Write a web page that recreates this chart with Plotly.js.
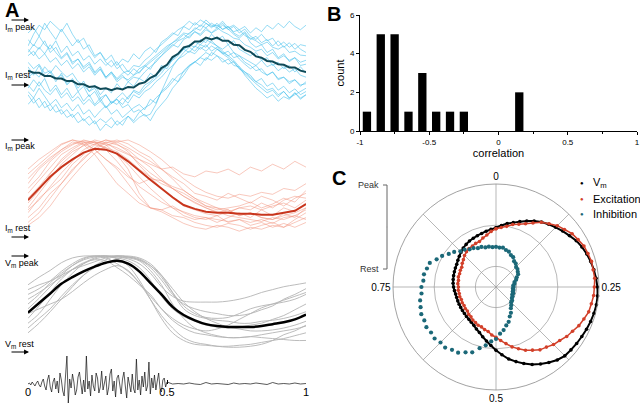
<!DOCTYPE html>
<html><head><meta charset="utf-8">
<script src="https://cdn.plot.ly/plotly-3.0.1.min.js"></script>
<style>html,body{margin:0;padding:0;background:#fff}#chart{width:640px;height:404px}</style>
</head><body><div id="chart"></div>
<script>
// ---------- Panel A data (phase 0..1, normalized rest=0, peak=1) ----------
const phase = [0,0.04,0.08,0.12,0.16,0.2,0.24,0.28,0.32,0.36,0.4,0.44,0.48,0.52,0.56,0.6,0.64,0.68,0.72,0.76,0.8,0.84,0.88,0.92,0.96,1];
const phaseFine = [0,0.02,0.04,0.06,0.08,0.1,0.12,0.14,0.16,0.18,0.2,0.22,0.24,0.26,0.28,0.3,0.32,0.34,0.36,0.38,0.4,0.42,0.44,0.46,0.48,0.5,0.52,0.54,0.56,0.58,0.6,0.62,0.64,0.66,0.68,0.7,0.72,0.74,0.76,0.78,0.8,0.82,0.84,0.86,0.88,0.9,0.92,0.94,0.96,0.98,1];

// Inhibition (cyan), sampled on phaseFine
const inhMean = [0.22,0.19,0.19,0.14,0.14,0.1,0.1,0.06,0.06,0.01,0.01,-0.03,-0.02,-0.06,-0.05,-0.08,-0.05,-0.07,-0.03,-0.04,0.02,0.04,0.11,0.15,0.26,0.31,0.43,0.48,0.58,0.6,0.67,0.67,0.73,0.7,0.73,0.68,0.68,0.62,0.61,0.54,0.51,0.44,0.42,0.37,0.36,0.32,0.31,0.27,0.27,0.22,0.2];
const inhCells = [
 [0.8,0.88,0.75,0.95,0.82,0.7,0.86,0.72,0.6,0.7,0.55,0.62,0.45,0.5,0.38,0.46,0.3,0.4,0.35,0.48,0.4,0.52,0.58,0.5,0.66,0.72,0.8,0.76,0.9,0.85,0.96,0.9,1.0,0.92,0.88,0.95,0.85,0.9,0.8,0.86,0.75,0.7,0.78,0.68,0.72,0.6,0.66,0.58,0.64,0.55,0.5],
 [-0.1,-0.2,-0.05,-0.18,-0.3,-0.22,-0.35,-0.28,-0.4,-0.3,-0.45,-0.38,-0.5,-0.4,-0.32,-0.45,-0.38,-0.5,-0.42,-0.35,-0.3,-0.38,-0.22,-0.28,-0.1,-0.02,0.1,0.05,0.22,0.3,0.36,0.3,0.42,0.38,0.45,0.35,0.4,0.3,0.28,0.2,0.15,0.05,0.1,-0.02,0.03,-0.08,-0.02,-0.12,-0.06,-0.15,-0.1],
 [0.45,0.52,0.4,0.48,0.35,0.42,0.3,0.38,0.25,0.33,0.2,0.28,0.15,0.24,0.12,0.2,0.1,0.18,0.22,0.15,0.25,0.3,0.38,0.45,0.52,0.6,0.65,0.72,0.8,0.78,0.88,0.84,0.95,0.9,0.92,0.86,0.9,0.82,0.85,0.76,0.72,0.68,0.62,0.66,0.58,0.55,0.6,0.5,0.52,0.46,0.45],
 [-0.15,-0.28,-0.2,-0.35,-0.3,-0.42,-0.38,-0.5,-0.45,-0.58,-0.52,-0.62,-0.55,-0.7,-0.6,-0.66,-0.55,-0.62,-0.48,-0.55,-0.42,-0.35,-0.3,-0.2,-0.12,-0.05,0.05,0.15,0.2,0.3,0.35,0.42,0.38,0.5,0.45,0.4,0.32,0.36,0.25,0.2,0.12,0.05,0.0,-0.08,-0.05,-0.15,-0.1,-0.2,-0.12,-0.22,-0.15],
 [0.6,0.78,0.92,0.85,0.98,0.9,0.82,0.95,0.78,0.65,0.72,0.55,0.42,0.5,0.35,0.28,0.36,0.22,0.15,0.25,0.18,0.3,0.24,0.38,0.45,0.55,0.62,0.58,0.7,0.75,0.82,0.78,0.88,0.8,0.85,0.92,0.86,0.78,0.72,0.8,0.65,0.58,0.62,0.5,0.55,0.42,0.48,0.36,0.42,0.3,0.32],
 [0.28,0.15,0.3,0.12,0.2,0.05,0.18,0.02,0.1,-0.05,0.06,-0.1,0.0,-0.15,-0.05,-0.12,0.02,-0.08,0.05,-0.02,0.1,0.05,0.18,0.12,0.3,0.25,0.4,0.5,0.55,0.62,0.58,0.7,0.65,0.78,0.7,0.75,0.62,0.68,0.55,0.5,0.45,0.5,0.38,0.42,0.3,0.35,0.25,0.3,0.2,0.28,0.18],
 [0.35,0.25,0.32,0.18,0.22,0.1,0.15,0.0,0.08,-0.1,-0.02,-0.18,-0.1,-0.25,-0.15,-0.28,-0.2,-0.12,-0.22,-0.08,-0.12,0.0,0.05,0.15,0.22,0.32,0.4,0.48,0.55,0.6,0.66,0.62,0.7,0.65,0.6,0.52,0.45,0.38,0.28,0.15,0.05,-0.05,-0.12,-0.2,-0.15,-0.25,-0.18,-0.22,-0.12,-0.2,-0.15],
 [0.5,0.62,0.55,0.68,0.5,0.58,0.42,0.5,0.35,0.4,0.28,0.35,0.2,0.28,0.12,0.2,0.08,0.15,0.05,0.12,0.1,0.2,0.28,0.35,0.45,0.52,0.6,0.68,0.72,0.8,0.85,0.92,0.88,0.95,0.9,0.98,0.88,0.92,0.85,0.9,0.8,0.88,0.82,0.92,0.86,0.95,0.88,0.98,0.9,0.85,0.92],
 [-0.3,-0.2,-0.35,-0.25,-0.4,-0.3,-0.45,-0.38,-0.5,-0.42,-0.55,-0.48,-0.6,-0.52,-0.58,-0.5,-0.62,-0.55,-0.48,-0.58,-0.5,-0.45,-0.55,-0.4,-0.3,-0.2,-0.05,0.05,0.15,0.28,0.35,0.42,0.5,0.45,0.55,0.48,0.52,0.42,0.45,0.35,0.3,0.22,0.25,0.15,0.2,0.1,0.12,0.05,0.08,0.0,0.02],
 [0.7,0.6,0.75,0.62,0.55,0.68,0.5,0.6,0.45,0.52,0.38,0.45,0.32,0.4,0.3,0.38,0.25,0.32,0.2,0.3,0.28,0.38,0.45,0.55,0.62,0.7,0.78,0.85,0.9,0.98,0.92,1.0,0.95,0.88,0.95,0.85,0.9,0.8,0.75,0.82,0.7,0.75,0.65,0.7,0.6,0.68,0.58,0.65,0.55,0.62,0.6],
 [0.1,0.2,0.12,0.28,0.18,0.3,0.2,0.12,0.18,0.05,0.0,-0.1,-0.05,-0.2,-0.15,-0.28,-0.22,-0.35,-0.3,-0.42,-0.38,-0.48,-0.45,-0.3,-0.1,0.1,0.28,0.4,0.5,0.58,0.52,0.62,0.58,0.68,0.6,0.55,0.62,0.5,0.45,0.4,0.35,0.3,0.38,0.28,0.32,0.22,0.28,0.2,0.25,0.15,0.12],
 [0.0,-0.1,0.05,-0.08,-0.15,-0.05,-0.2,-0.12,-0.25,-0.18,-0.3,-0.22,-0.32,-0.25,-0.35,-0.28,-0.22,-0.3,-0.18,-0.1,-0.15,-0.05,0.02,0.1,0.18,0.3,0.38,0.45,0.55,0.5,0.6,0.55,0.62,0.52,0.58,0.48,0.42,0.35,0.25,0.18,0.1,0.02,-0.05,-0.12,-0.08,-0.18,-0.1,-0.2,-0.15,-0.1,-0.05],
 [0.55,0.45,0.58,0.48,0.62,0.5,0.4,0.48,0.32,0.4,0.25,0.32,0.18,0.25,0.1,0.18,0.05,0.12,0.08,0.15,0.2,0.28,0.35,0.42,0.5,0.58,0.65,0.7,0.78,0.72,0.82,0.76,0.85,0.8,0.88,0.82,0.78,0.72,0.7,0.62,0.58,0.52,0.55,0.45,0.5,0.4,0.45,0.38,0.42,0.35,0.38],
 [-0.05,0.08,-0.02,0.1,-0.1,0.0,-0.15,-0.05,-0.2,-0.1,-0.25,-0.15,-0.3,-0.2,-0.35,-0.25,-0.3,-0.2,-0.28,-0.15,-0.2,-0.1,-0.05,0.05,0.12,0.22,0.3,0.4,0.45,0.52,0.48,0.58,0.52,0.6,0.55,0.5,0.45,0.5,0.4,0.32,0.25,0.3,0.2,0.15,0.2,0.08,0.12,0.02,0.08,-0.02,0.05]
];

// Excitation (red), sampled on phase
const excMean = [0.38,0.5,0.62,0.72,0.8,0.87,0.91,0.9,0.86,0.78,0.68,0.59,0.5,0.41,0.33,0.29,0.26,0.25,0.25,0.24,0.24,0.23,0.23,0.25,0.27,0.34];
const excCells = [
 [0.3,0.45,0.6,0.75,0.85,0.95,1.0,0.97,0.9,0.85,0.8,0.75,0.7,0.72,0.65,0.62,0.68,0.66,0.7,0.64,0.72,0.68,0.75,0.7,0.78,0.72],
 [0.55,0.7,0.8,0.9,0.98,0.95,0.85,0.7,0.55,0.45,0.35,0.3,0.28,0.32,0.25,0.2,0.18,0.22,0.15,0.18,0.12,0.15,0.1,0.14,0.1,0.15],
 [0.2,0.3,0.45,0.55,0.7,0.8,0.92,0.98,0.95,0.9,0.8,0.72,0.6,0.5,0.42,0.35,0.3,0.25,0.28,0.22,0.25,0.2,0.18,0.24,0.2,0.3],
 [0.65,0.75,0.85,0.95,1.0,0.96,0.9,0.8,0.7,0.55,0.4,0.3,0.26,0.2,0.14,0.1,0.08,0.12,0.1,0.06,0.1,0.08,0.12,0.1,0.15,0.2],
 [0.25,0.4,0.5,0.6,0.75,0.85,0.95,1.0,0.98,0.92,0.85,0.78,0.7,0.62,0.55,0.45,0.42,0.38,0.45,0.4,0.35,0.42,0.38,0.32,0.4,0.45],
 [0.45,0.58,0.72,0.85,0.92,0.98,0.95,0.92,0.85,0.75,0.62,0.5,0.4,0.3,0.22,0.18,0.2,0.15,0.2,0.25,0.2,0.28,0.22,0.3,0.26,0.35],
 [0.15,0.25,0.4,0.55,0.68,0.82,0.9,0.97,1.0,0.96,0.88,0.82,0.7,0.6,0.48,0.4,0.32,0.3,0.25,0.3,0.28,0.35,0.3,0.38,0.42,0.4],
 [0.7,0.8,0.88,0.96,1.0,0.98,0.9,0.8,0.72,0.62,0.55,0.6,0.58,0.52,0.48,0.4,0.35,0.3,0.28,0.22,0.25,0.2,0.18,0.22,0.25,0.3],
 [0.35,0.48,0.65,0.8,0.9,0.97,0.98,0.95,0.85,0.7,0.45,0.3,0.28,0.22,0.2,0.15,0.12,0.1,0.14,0.12,0.08,0.12,0.15,0.1,0.18,0.25],
 [0.5,0.62,0.78,0.88,0.95,1.0,0.97,0.92,0.88,0.8,0.7,0.62,0.55,0.5,0.45,0.38,0.32,0.28,0.3,0.32,0.36,0.3,0.34,0.4,0.36,0.48],
 [0.4,0.52,0.66,0.78,0.88,0.94,0.98,0.96,0.92,0.86,0.76,0.66,0.58,0.5,0.42,0.36,0.3,0.26,0.22,0.2,0.18,0.16,0.2,0.18,0.22,0.28],
 [0.28,0.38,0.52,0.66,0.78,0.9,0.96,1.0,0.96,0.88,0.74,0.62,0.5,0.4,0.32,0.28,0.24,0.22,0.26,0.3,0.32,0.28,0.32,0.35,0.3,0.38],
 [0.6,0.72,0.82,0.9,0.96,0.99,0.98,0.9,0.78,0.64,0.52,0.44,0.36,0.3,0.26,0.22,0.2,0.18,0.16,0.18,0.15,0.18,0.14,0.2,0.22,0.18],
 [0.12,0.2,0.32,0.48,0.62,0.75,0.86,0.94,0.98,1.0,0.95,0.88,0.8,0.7,0.6,0.52,0.46,0.42,0.4,0.44,0.42,0.46,0.44,0.5,0.48,0.55]
];

// Membrane potential (black/grey), sampled on phase
const vmMean = [0.41,0.51,0.61,0.71,0.78,0.84,0.89,0.93,0.95,0.92,0.84,0.72,0.6,0.47,0.385,0.33,0.29,0.27,0.26,0.26,0.26,0.27,0.29,0.31,0.34,0.39];
const vmCells = [
 [0.7,0.78,0.85,0.93,0.98,1.0,1.0,1.0,0.99,0.97,0.92,0.82,0.68,0.58,0.53,0.52,0.52,0.52,0.53,0.55,0.58,0.62,0.65,0.68,0.7,0.72],
 [0.3,0.4,0.55,0.7,0.82,0.92,0.98,1.0,1.0,0.98,0.95,0.85,0.7,0.5,0.35,0.25,0.2,0.17,0.15,0.15,0.16,0.18,0.2,0.22,0.24,0.27],
 [0.5,0.6,0.72,0.82,0.9,0.96,0.99,1.0,0.97,0.9,0.75,0.55,0.35,0.2,0.12,0.08,0.07,0.06,0.06,0.07,0.08,0.1,0.12,0.14,0.17,0.2],
 [0.25,0.35,0.45,0.58,0.7,0.8,0.88,0.93,0.97,0.99,0.97,0.9,0.78,0.62,0.48,0.4,0.36,0.35,0.36,0.4,0.45,0.48,0.5,0.52,0.55,0.6],
 [0.55,0.62,0.7,0.78,0.86,0.92,0.97,0.99,1.0,1.0,0.98,0.92,0.8,0.62,0.45,0.38,0.35,0.33,0.32,0.3,0.3,0.32,0.33,0.35,0.38,0.42],
 [0.35,0.48,0.62,0.76,0.86,0.93,0.96,0.95,0.88,0.8,0.7,0.6,0.45,0.33,0.25,0.2,0.18,0.16,0.15,0.15,0.16,0.15,0.14,0.13,0.12,0.12],
 [0.65,0.7,0.74,0.8,0.86,0.9,0.94,0.98,1.0,0.99,0.96,0.88,0.75,0.6,0.5,0.45,0.42,0.4,0.38,0.38,0.4,0.44,0.48,0.55,0.6,0.66],
 [0.4,0.45,0.5,0.55,0.63,0.72,0.8,0.86,0.9,0.85,0.72,0.55,0.38,0.25,0.15,0.1,0.08,0.06,0.05,0.05,0.06,0.08,0.12,0.18,0.22,0.28],
 [0.2,0.3,0.42,0.55,0.68,0.8,0.9,0.96,1.0,0.99,0.96,0.9,0.8,0.66,0.52,0.42,0.35,0.3,0.26,0.24,0.22,0.22,0.23,0.25,0.28,0.32],
 [0.45,0.56,0.68,0.8,0.9,0.97,1.0,0.98,0.92,0.84,0.72,0.58,0.45,0.35,0.28,0.24,0.22,0.24,0.28,0.34,0.4,0.46,0.5,0.54,0.58,0.62],
 [0.6,0.66,0.74,0.84,0.92,0.98,1.0,1.0,0.98,0.95,0.88,0.75,0.58,0.45,0.37,0.32,0.28,0.26,0.25,0.26,0.28,0.3,0.34,0.38,0.44,0.5]
];

// stimulus trace: burst sampled every 0.005, quiet tail every 0.02
const burstDt = 0.005, tailDt = 0.02;
const burstVals = [0,1,-1,2,0,-2,1,3,-1,-3,2,
 5,-2,-6,4,9,-3,-8,2,6,-5,
 3,-9,11,4,-7,-12,8,28,-19,5,
 -4,10,2,-11,-6,7,12,-3,-10,4,
 -8,28,-5,3,-12,9,-2,-7,11,6,
 -9,-3,13,-6,2,8,-11,-4,10,15,
 -7,3,-13,6,9,-4,-10,5,12,-2,
 -14,7,1,-8,10,-5,-9,25,-6,4,
 -11,8,-3,12,-7,-2,22,-10,6,-4,
 9,-6,3,11,-5,-8,4,6,-3,2];
const tailVals = [0,0.5,0,1,0,-0.5,1.5,0,0.5,0,-0.5,1,0,0.5,0,1,0,-0.5,1.5,0,0.5,0,1,0,0.5];
const bottomTicks = [0,0.5,1];
const bottomTickText = ['0','0.5','1'];

// ---------- Panel B data ----------
const corrBins = [-0.95,-0.85,-0.75,-0.65,-0.55,-0.45,-0.35,-0.25,0.15];
const corrCounts = [1,5,5,1,3,1,1,1,2];
const corrTicks = [-1,-0.5,0,0.5,1];
const corrTickText = ['-1','-0.5','0','0.5','1'];

// ---------- Panel C data (phase in degrees, clockwise from top) ----------
const polarTheta = [0,5,10,15,20,25,30,35,40,45,50,55,60,65,70,75,80,85,90,95,100,105,110,115,120,125,130,135,140,145,150,155,160,165,170,175,180,185,190,195,200,205,210,215,220,225,230,235,240,245,250,255,260,265,270,275,280,285,290,295,300,305,310,315,320,325,330,335,340,345,350,355];
const polarVm = [0.575,0.6,0.625,0.647,0.675,0.707,0.74,0.77,0.795,0.82,
 0.845,0.87,0.9,0.92,0.938,0.952,0.965,0.975,0.985,0.99,
 0.99,0.985,0.978,0.97,0.962,0.956,0.95,0.945,0.925,0.895,
 0.864,0.83,0.79,0.75,0.71,0.66,0.615,0.57,0.532,0.5,
 0.47,0.45,0.43,0.418,0.41,0.405,0.4,0.398,0.396,0.395,
 0.395,0.395,0.398,0.405,0.412,0.418,0.422,0.426,0.43,0.435,
 0.44,0.452,0.465,0.48,0.495,0.505,0.515,0.522,0.53,0.538,
 0.55,0.562];
const polarExc = [0.565,0.58,0.598,0.628,0.648,0.678,0.718,0.768,0.802,0.842,
 0.868,0.902,0.92,0.942,0.95,0.96,0.958,0.962,0.955,0.952,
 0.94,0.932,0.908,0.888,0.858,0.838,0.808,0.79,0.762,0.745,
 0.708,0.678,0.638,0.602,0.558,0.522,0.488,0.468,0.438,0.428,
 0.412,0.41,0.398,0.392,0.378,0.374,0.363,0.364,0.358,0.362,
 0.358,0.364,0.362,0.368,0.365,0.372,0.37,0.378,0.376,0.382,
 0.384,0.4,0.413,0.432,0.446,0.457,0.458,0.467,0.47,0.492,
 0.512,0.542];
const polarInh = [0.39,0.384,0.388,0.372,0.365,0.342,0.334,0.306,0.298,0.276,
 0.272,0.258,0.248,0.222,0.208,0.186,0.182,0.168,0.171,0.165,
 0.172,0.168,0.178,0.174,0.186,0.188,0.204,0.208,0.23,0.252,
 0.29,0.316,0.36,0.386,0.425,0.455,0.505,0.53,0.575,0.615,
 0.675,0.7,0.736,0.745,0.768,0.762,0.778,0.77,0.78,0.768,
 0.772,0.758,0.748,0.726,0.724,0.708,0.71,0.694,0.684,0.636,
 0.604,0.56,0.53,0.49,0.474,0.446,0.436,0.416,0.414,0.398,
 0.398,0.388];

// ---------- helpers for placement ----------
const W = 640, H = 404;
const px = x => x / W;
const py = y => 1 - y / H;

const traces = [];
inhCells.forEach(c => traces.push({x: phaseFine, y: c, xaxis:'x', yaxis:'y', type:'scatter', mode:'lines', line:{color:'rgba(70,192,235,0.72)', width:0.8}, hoverinfo:'skip'}));
traces.push({x: phaseFine, y: inhMean, xaxis:'x', yaxis:'y', type:'scatter', mode:'lines', line:{color:'#0f4a58', width:2}, hoverinfo:'skip'});
excCells.forEach(c => traces.push({x: phase, y: c, xaxis:'x', yaxis:'y2', type:'scatter', mode:'lines', line:{color:'rgba(240,140,115,0.6)', width:0.8}, hoverinfo:'skip'}));
traces.push({x: phase, y: excMean, xaxis:'x', yaxis:'y2', type:'scatter', mode:'lines', line:{color:'#c8351c', width:2}, hoverinfo:'skip'});
vmCells.forEach(c => traces.push({x: phase, y: c, xaxis:'x', yaxis:'y3', type:'scatter', mode:'lines', line:{color:'#b4b4b4', width:0.9, shape:'spline'}, hoverinfo:'skip'}));
traces.push({x: phase, y: vmMean, xaxis:'x', yaxis:'y3', type:'scatter', mode:'lines', line:{color:'#000', width:2.5, shape:'spline'}, hoverinfo:'skip'});

const spikeT = [], spikeV = [];
burstVals.forEach((v,i) => { spikeT.push(i*burstDt); spikeV.push(v); });
tailVals.forEach((v,j) => { spikeT.push(0.5 + (j+1)*tailDt); spikeV.push(v); });
traces.push({x: spikeT, y: spikeV, xaxis:'x', yaxis:'y4', type:'scatter', mode:'lines', line:{color:'#111', width:0.7}, hoverinfo:'skip'});

traces.push({x: corrBins, y: corrCounts, xaxis:'x2', yaxis:'y5', type:'bar', width:0.06, marker:{color:'#000'}, hoverinfo:'skip'});

const close = a => a.concat([a[0]]);
const thetaC = close(polarTheta);
traces.push({type:'scatterpolar', r: close(polarVm), theta: thetaC, mode:'lines+markers', line:{color:'#000', width:2}, marker:{color:'#000', size:3.6}, hoverinfo:'skip'});
traces.push({type:'scatterpolar', r: close(polarExc), theta: thetaC, mode:'lines+markers', line:{color:'#d2402a', width:1.5}, marker:{color:'#d2402a', size:3.6}, hoverinfo:'skip'});
traces.push({type:'scatterpolar', r: polarInh, theta: polarTheta, mode:'markers', marker:{color:'#1b6878', size:4.2}, hoverinfo:'skip'});

const ann = [];
ann.push({text:'<b>A</b>', x:px(3), y:py(10), xanchor:'left', yanchor:'middle', font:{size:20}});
ann.push({text:'<b>B</b>', x:px(325), y:py(14), xanchor:'left', yanchor:'middle', font:{size:20}});
ann.push({text:'<b>C</b>', x:px(330), y:py(178), xanchor:'left', yanchor:'middle', font:{size:20}});
const aLabels = [['I<sub>m</sub> peak',27,20],['I<sub>m</sub> rest',76,85],['I<sub>m</sub> peak',146,140],['I<sub>m</sub> rest',229,237],['V<sub>m</sub> peak',263,256],['V<sub>m</sub> rest',344,352]];
aLabels.forEach(l => {
  ann.push({text:l[0], x:px(3), y:py(l[1]), xanchor:'left', yanchor:'middle', font:{size:9}});
  ann.push({text:'', x:px(29), y:py(l[2]), ax:-19, ay:0, showarrow:true, arrowhead:2, arrowsize:0.9, arrowwidth:1.1, arrowcolor:'#000', standoff:0, startstandoff:0});
});
ann.push({text:'Peak', x:px(381), y:py(185), xanchor:'right', yanchor:'middle', font:{size:9, color:'#333'}});
ann.push({text:'Rest', x:px(381), y:py(269), xanchor:'right', yanchor:'middle', font:{size:9, color:'#333'}});
const leg = [['V<sub>m</sub>','#000',183],['Excitation','#d2402a',199],['Inhibition','#1b6878',214]];
leg.forEach(l => {
  ann.push({text:'●', x:px(582), y:py(l[2]), xanchor:'center', yanchor:'middle', font:{size:6, color:l[1]}});
  ann.push({text:l[0], x:px(591), y:py(l[2]), xanchor:'left', yanchor:'middle', font:{size:11}});
});
ann.forEach(a => { a.xref = 'paper'; a.yref = 'paper'; if (a.showarrow === undefined) a.showarrow = false; });

const layout = {
  width: W, height: H,
  margin: {l:0, r:0, t:0, b:0},
  paper_bgcolor:'#fff', plot_bgcolor:'rgba(0,0,0,0)',
  font: {family:'Liberation Sans, Arial, sans-serif', size:9, color:'#000'},
  showlegend:false,
  xaxis: {domain:[px(28), px(306)], range:[0,1], anchor:'free', position:py(384), showline:false, showgrid:false, zeroline:false,
          tickmode:'array', tickvals:bottomTicks, ticktext:bottomTickText, ticks:'inside', ticklen:4, tickcolor:'#000', tickfont:{size:11}},
  yaxis: {domain:[py(136), py(14)], range:[-0.785, 1.092], anchor:'x', visible:false},
  yaxis2:{domain:[py(240), py(136)], range:[-0.031, 1.041], anchor:'x', visible:false},
  yaxis3:{domain:[py(350), py(250)], range:[0.0208, 1.0625], anchor:'x', visible:false},
  yaxis4:{domain:[0, py(350)], range:[-20, 34], anchor:'x', visible:false},
  xaxis2:{domain:[px(360), px(637)], range:[-1,1], anchor:'y5', showline:true, linecolor:'#000', linewidth:1, showgrid:false, zeroline:false,
          tickmode:'array', tickvals:corrTicks, ticktext:corrTickText, ticks:'outside', ticklen:3, tickcolor:'#000', tickfont:{size:8},
          minor:{tickmode:'array', tickvals:[-0.75,-0.25,0.25,0.75], ticks:'outside', ticklen:2, tickcolor:'#000'},
          title:{text:'correlation', font:{size:11}, standoff:2}},
  yaxis5:{domain:[py(131), py(15)], range:[0,6], anchor:'x2', showline:true, linecolor:'#000', linewidth:1, showgrid:false, zeroline:false,
          tickmode:'array', tickvals:[0,2,4,6], ticks:'outside', ticklen:3, tickcolor:'#000', tickfont:{size:8},
          title:{text:'count', font:{size:11}, standoff:3}},
  polar:{domain:{x:[px(393), px(599)], y:[py(390), py(184)]}, bgcolor:'rgba(0,0,0,0)',
         angularaxis:{rotation:90, direction:'clockwise', tickmode:'array', tickvals:[0,45,90,135,180,225,270,315],
                      ticktext:['0','','0.25','','0.5','','0.75',''], ticks:'', showline:true, linecolor:'#8a8a8a', linewidth:0.8,
                      gridcolor:'#9a9a9a', gridwidth:0.7, tickfont:{size:10}},
         radialaxis:{range:[0,1], tickmode:'array', tickvals:[0.2,0.6], showticklabels:false, ticks:'', showline:false,
                     gridcolor:'#9a9a9a', gridwidth:0.7}},
  shapes:[
    {type:'path', xref:'paper', yref:'paper', path:`M ${px(383)} ${py(185)} L ${px(387)} ${py(185)} L ${px(387)} ${py(269)} L ${px(383)} ${py(269)}`, line:{color:'#666', width:1}},
    {type:'line', xref:'paper', yref:'paper', x0:px(386), x1:px(388), y0:py(227), y1:py(227), line:{color:'#aaa', width:1}}
  ],
  annotations: ann
};

Plotly.newPlot('chart', traces, layout, {staticPlot:true, displayModeBar:false});
</script>
</body></html>
